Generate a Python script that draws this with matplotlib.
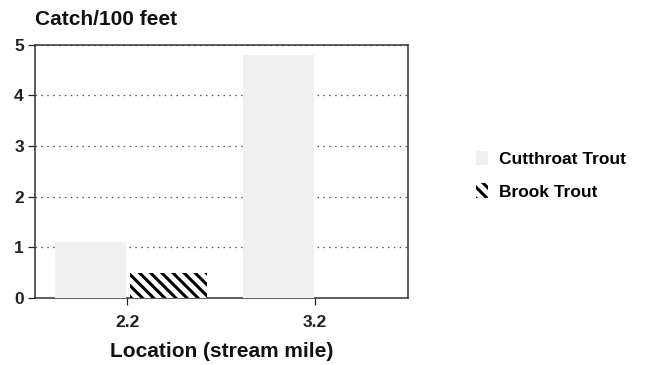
import matplotlib
matplotlib.use("Agg")
import matplotlib.pyplot as plt
import numpy as np

# Trout catch per 100 feet of stream, by survey location
locations = ["2.2", "3.2"]
cutthroat = [1.1, 4.8]
brook = [0.5, 0.0]
series_names = ["Cutthroat Trout", "Brook Trout"]

plt.rcParams["font.family"] = ["Liberation Sans", "DejaVu Sans"]
plt.rcParams["hatch.linewidth"] = 2.2

fig = plt.figure(figsize=(6.47, 3.65), dpi=100)
ax = fig.add_axes([0.054, 0.184, 0.577, 0.694])

x = np.arange(len(locations))
cut_color = "#f0f0f0"

ax.bar(x - 0.195, cutthroat, width=0.38, color=cut_color, edgecolor="none",
       zorder=3, label=series_names[0])
ax.bar(x + 0.22, brook, width=0.41, color="white", edgecolor="black", linewidth=0,
       hatch="\\\\\\", zorder=3, label=series_names[1])

ax.set_ylim(0, 5)
ax.set_xlim(-0.49, 1.495)
ax.set_yticks(range(0, 6))
ax.set_xticks(x)
ax.set_xticklabels(locations)
ax.yaxis.grid(True, linestyle=(0, (1.2, 3.5)), color="#555555", linewidth=0.9, zorder=1)
ax.set_axisbelow(True)

for side in ["left", "right", "top", "bottom"]:
    ax.spines[side].set_linewidth(1.1)
    ax.spines[side].set_color("#333333")

ax.tick_params(axis="both", direction="out", length=5, width=0.9, colors="#222222",
               labelsize=12.5)
ax.tick_params(axis="x", pad=7)
ax.tick_params(axis="y", pad=3)
for lab in ax.get_xticklabels() + ax.get_yticklabels():
    lab.set_fontweight("bold")

fig.text(0.054, 0.92, "Catch/100 feet", fontsize=15, fontweight="bold",
         ha="left", va="bottom", color="#111111")
ax.set_xlabel("Location (stream mile)", fontsize=15, fontweight="bold",
              labelpad=9, color="#111111")

leg = fig.legend(loc="center left", bbox_to_anchor=(0.712, 0.52), frameon=False,
                 fontsize=12.5, handlelength=0.7, handleheight=0.9, handletextpad=0.6,
                 labelspacing=0.95)
for t in leg.get_texts():
    t.set_fontweight("bold")

fig.savefig("out.png", dpi=100, facecolor="white")
